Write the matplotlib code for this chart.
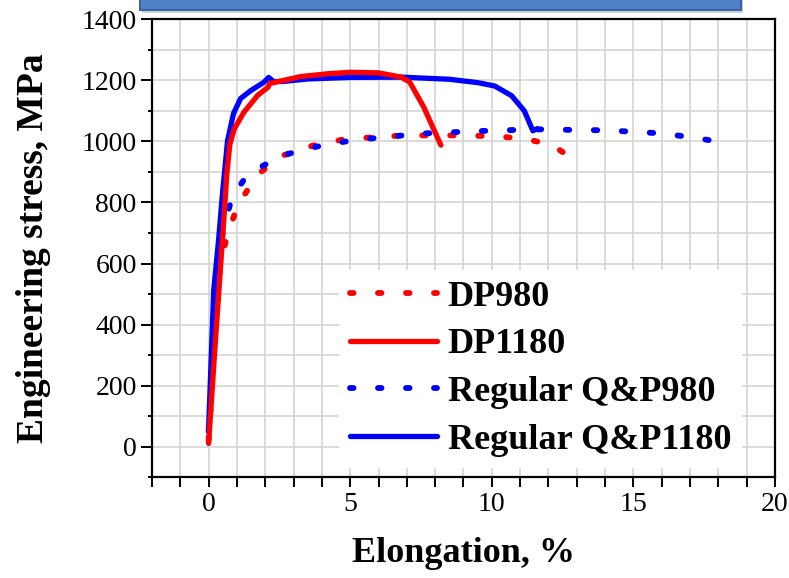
import matplotlib
matplotlib.use("Agg")
import matplotlib.pyplot as plt
from matplotlib.patches import Rectangle
from matplotlib.ticker import MultipleLocator

# tensile curves
dp980_x = [0.0, 0.2, 0.42, 0.67, 1.06, 1.77, 2.65, 3.7, 4.78, 5.84, 6.9, 7.96, 9.0, 10.1, 11.1, 12.1, 13.1]
dp980_y = [20, 330, 600, 698, 797, 895, 955, 987, 1007, 1014, 1020, 1020, 1020, 1017, 1010, 990, 929]

dp1180_x = [0.0, 0.2, 0.4, 0.55, 0.65, 0.75, 0.9, 1.24, 1.73, 2.1, 2.15, 3.26, 4.2, 5.0, 6.0, 6.8, 7.1, 7.6, 8.2]
dp1180_y = [10, 290, 560, 760, 900, 990, 1040, 1095, 1151, 1178, 1190, 1213, 1222, 1227, 1225, 1211, 1195, 1112, 988]

qp980_x = [0.0, 0.2, 0.4, 0.5, 0.67, 0.78, 0.99, 1.31, 1.95, 2.65, 3.5, 4.39, 5.38, 6.55, 7.5, 8.5, 9.5,
           10.5, 11.8, 12.8, 13.8, 14.8, 15.9, 16.8, 17.7, 18.05]
qp980_y = [50, 350, 600, 708, 765, 800, 840, 883, 922, 955, 977, 994, 1007, 1017, 1026, 1030, 1034,
           1037, 1040, 1038, 1037, 1033, 1027, 1017, 1004, 981]

qp1180_x = [0.0, 0.18, 0.35, 0.5, 0.67, 0.88, 1.13, 1.49, 1.95, 2.12, 2.3, 2.65, 3.5, 5.0, 6.8, 8.5, 9.5,
            10.1, 10.7, 11.15, 11.45, 11.6]
qp1180_y = [60, 512, 675, 840, 1003, 1092, 1141, 1167, 1194, 1210, 1196, 1197, 1205, 1210, 1211, 1204, 1193,
            1182, 1150, 1100, 1035, 1042]

labels = ["DP980", "DP1180", "Regular Q&P980", "Regular Q&P1180"]

plt.rcParams['font.family'] = ['Liberation Serif', 'DejaVu Serif']

fig = plt.figure(figsize=(7.89, 5.78), dpi=100)
ax = fig.add_axes([0.1926, 0.1747, 0.7897, 0.7916])

dots = (0, (0.6, 4.2))
lw = 4.2
ax.plot(dp980_x, dp980_y, color='#ff0000', lw=lw, ls=dots, dash_capstyle='round', label=labels[0], zorder=3)
ax.plot(dp1180_x, dp1180_y, color='#ff0000', lw=3.8, solid_capstyle='round', label=labels[1], zorder=5)
ax.plot(qp980_x, qp980_y, color='#0000ff', lw=lw, ls=dots, dash_capstyle='round', label=labels[2], zorder=3)
ax.plot(qp1180_x, qp1180_y, color='#0000ff', lw=3.8, solid_capstyle='round', label=labels[3], zorder=4)

ax.set_xlim(-2, 20)
ax.set_ylim(-100, 1400)
ax.xaxis.set_major_locator(MultipleLocator(5))
ax.xaxis.set_minor_locator(MultipleLocator(1))
ax.yaxis.set_major_locator(MultipleLocator(200))
ax.yaxis.set_minor_locator(MultipleLocator(100))

ax.grid(True, which='both', color='#d4d4d4', lw=1.2)
ax.set_axisbelow(True)

for s in ax.spines.values():
    s.set_linewidth(1.6)
ax.tick_params(axis='x', which='both', direction='out', length=7, width=1.4, labelsize=20, pad=4)
ax.tick_params(axis='y', which='major', direction='out', length=8, width=1.4, labelsize=20, pad=3)
ax.tick_params(axis='y', which='minor', direction='out', length=3, width=1.4)

ax.set_xlabel("Elongation, %", fontsize=26, fontweight='bold', labelpad=14)
ax.set_ylabel("Engineering stress, MPa", fontsize=27, fontweight='bold', labelpad=22)

leg = ax.legend(loc='center right', bbox_to_anchor=(0.976, 0.237), frameon=True, framealpha=1,
                edgecolor='none', fancybox=False, handlelength=2.4, handletextpad=0.3,
                labelspacing=0.4, borderpad=0.3, prop={'size': 26, 'weight': 'bold'})
leg.set_zorder(6)

# blue banner cut off at the top of the figure
fig.patches.append(Rectangle((0.180, 0.978), 0.762, 0.04, transform=fig.transFigure,
                             facecolor='#b8b8b8', edgecolor='none', alpha=0.6))
fig.patches.append(Rectangle((0.177, 0.983), 0.762, 0.04, transform=fig.transFigure,
                             facecolor='#4f81c7', edgecolor='#3a66a8', lw=1.5))

fig.savefig("out.png", dpi=100)
